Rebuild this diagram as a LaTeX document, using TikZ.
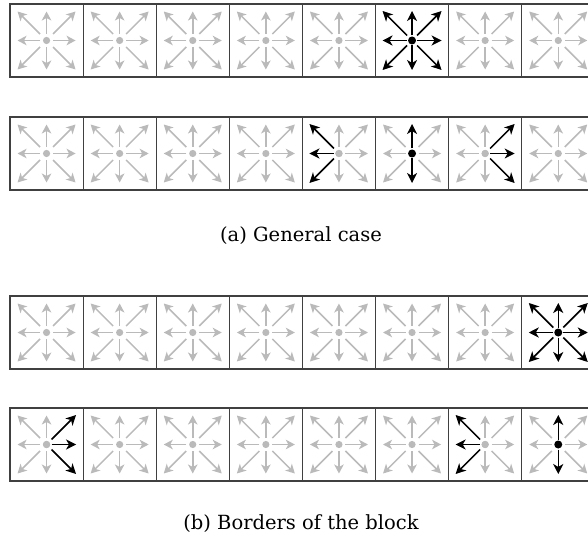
\documentclass[tikz,border=0pt]{standalone}
\usepackage{fontspec}
\setmainfont{DejaVu Serif}
\usetikzlibrary{arrows.meta}
\newcommand\blackarrows[2]{%
  \foreach \dx/\dy in {#2} {
    \draw[barrow] ([shift={(5*\dx,5*\dy)}]#1.center) -- ([shift={(29.5*\dx,29.5*\dy)}]#1.center);
  }}
\begin{document}
\begin{tikzpicture}[x=1pt,y=-1pt,
  cellbox/.style={draw=black!75, line width=1.2pt, minimum width=73.1pt, minimum height=73pt, inner sep=0pt, outer sep=0pt},
  garrow/.style={draw=black!27, line width=1.5pt, -{Stealth[length=9pt,width=9.5pt,inset=2.5pt]}},
  barrow/.style={draw=black, line width=1.5pt, -{Stealth[length=10pt,width=10pt,inset=3pt]}},
  gdot/.style={fill=black!27},
  bdot/.style={fill=black},
  caption/.style={font=\fontsize{19.5}{23}\selectfont, anchor=base}]
\useasboundingbox (0,0) rectangle (588,537);
\clip (0,0) rectangle (588,537);
% cells with gray arrows
\foreach \rw/\tp in {1/4,2/117,3/296,4/408}{
  \foreach \col in {1,...,8}{
    \node[cellbox] (r\rw-\col) at ({10+(\col-1)*73.1+36.55},{\tp+36.5}) {};
    \foreach \dx/\dy in {1/0,1/-1,0/-1,-1/-1,-1/0,-1/1,0/1,1/1} {
      \draw[garrow] ([shift={(6.5*\dx,6.5*\dy)}]r\rw-\col.center) -- ([shift={(29*\dx,29*\dy)}]r\rw-\col.center);
    }
    \fill[gdot] (r\rw-\col.center) circle (3.6);
  }
}
% black overlays
\blackarrows{r1-6}{1/0,1/-1,0/-1,-1/-1,-1/0,-1/1,0/1,1/1}
\fill[bdot] (r1-6.center) circle (4);
\blackarrows{r2-5}{-1/-1,-1/0,-1/1}
\blackarrows{r2-6}{0/-1,0/1}
\fill[bdot] (r2-6.center) circle (4);
\blackarrows{r2-7}{1/-1,1/0,1/1}
\blackarrows{r3-8}{1/0,1/-1,0/-1,-1/-1,-1/0,-1/1,0/1,1/1}
\fill[bdot] (r3-8.center) circle (4);
\blackarrows{r4-1}{1/-1,1/0,1/1}
\blackarrows{r4-7}{-1/-1,-1/0,-1/1}
\blackarrows{r4-8}{0/-1,0/1}
\fill[bdot] (r4-8.center) circle (4);
\foreach \nd in {r2-5,r2-7,r4-1,r4-7}{\fill[gdot] (\nd.center) circle (3.6);}
\node[caption] (capa) at (301,241) {(a) General case};
\node[caption] (capb) at (301,529) {(b) Borders of the block};
\end{tikzpicture}
\end{document}
